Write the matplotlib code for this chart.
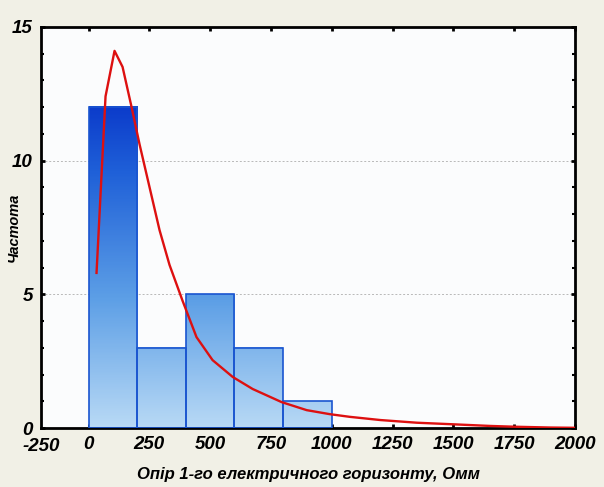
import numpy as np
import matplotlib
matplotlib.use("Agg")
import matplotlib.pyplot as plt
from matplotlib.colors import LinearSegmentedColormap, Normalize
from matplotlib.ticker import MultipleLocator
from matplotlib.transforms import offset_copy

# histogram bins (Omm) and counts
bin_left = [0, 200, 400, 600, 800]
bin_width = 200
counts = [12, 3, 5, 3, 1]

# fitted curve
curve_x = [33, 70, 107, 140, 177, 210, 251, 292, 333, 387, 444, 510, 593, 675, 794, 897,
           992, 1074, 1200, 1350, 1502, 1650, 1753, 1900, 2000]
curve_y = [5.8, 12.4, 14.1, 13.5, 12.0, 10.6, 9.0, 7.4, 6.1, 4.75, 3.4, 2.54, 1.91, 1.46, 0.97, 0.67,
           0.52, 0.42, 0.3, 0.2, 0.14, 0.08, 0.05, 0.02, 0.01]

xticks = [0, 250, 500, 750, 1000, 1250, 1500, 1750, 2000]
yticks = [0, 5, 10, 15]

plt.rcParams['font.family'] = ['Liberation Sans', 'DejaVu Sans']

fig = plt.figure(figsize=(6.04, 4.87), dpi=100, facecolor='#f1f0e6')
ax = fig.add_axes([0.068, 0.121, 0.884, 0.824])
ax.set_facecolor('#fbfcfd')

cmap = LinearSegmentedColormap.from_list(
    'bars', [(0.0, '#b8d9f5'), (0.4, '#5d9fe6'), (0.8, '#1f60d8'), (1.0, '#0c3ccb')])
norm = Normalize(0, 12)

for x0, h in zip(bin_left, counts):
    grad = np.linspace(0, h, 100).reshape(-1, 1)
    ax.imshow(grad, cmap=cmap, norm=norm, origin='lower', aspect='auto',
              extent=(x0, x0 + bin_width, 0, h), zorder=2, interpolation='bilinear')
    ax.bar(x0, h, width=bin_width, align='edge', facecolor='none',
           edgecolor='#1a55d0', linewidth=1.2, zorder=3)

ax.plot(curve_x, curve_y, color='#dd1010', linewidth=1.7, zorder=4)

for y in [5, 10]:
    ax.axhline(y, color='#b8b8b8', linewidth=0.7, linestyle=(0, (2, 2)), zorder=1)

ax.set_xlim(-195, 2000)
ax.set_ylim(0, 15)
ax.set_xticks(xticks)
ax.set_yticks(yticks)
ax.yaxis.set_minor_locator(MultipleLocator(1))
ax.tick_params(direction='in', length=3, width=2, top=True, right=True,
               labelsize=13.5, pad=6)
ax.tick_params(which='minor', direction='in', length=2, width=1.5, right=True)
for lab in ax.get_xticklabels() + ax.get_yticklabels():
    lab.set_fontweight('bold')
    lab.set_fontstyle('italic')
ax.text(0.0, 0.0, '-250', transform=offset_copy(ax.transAxes, fig, y=-7, units='points'),
        ha='center', va='top', fontsize=13.5, fontweight='bold', fontstyle='italic')

for s in ax.spines.values():
    s.set_linewidth(2)
    s.set_color('black')

ax.set_xlabel('Опір 1-го електричного горизонту, Омм', fontsize=12,
              fontweight='bold', fontstyle='italic', labelpad=10)
ax.set_ylabel('Частота', fontsize=10.5, fontweight='bold', fontstyle='italic')
ax.yaxis.set_label_coords(-0.038, 0.5)

fig.savefig('out.png', dpi=100, facecolor=fig.get_facecolor())
